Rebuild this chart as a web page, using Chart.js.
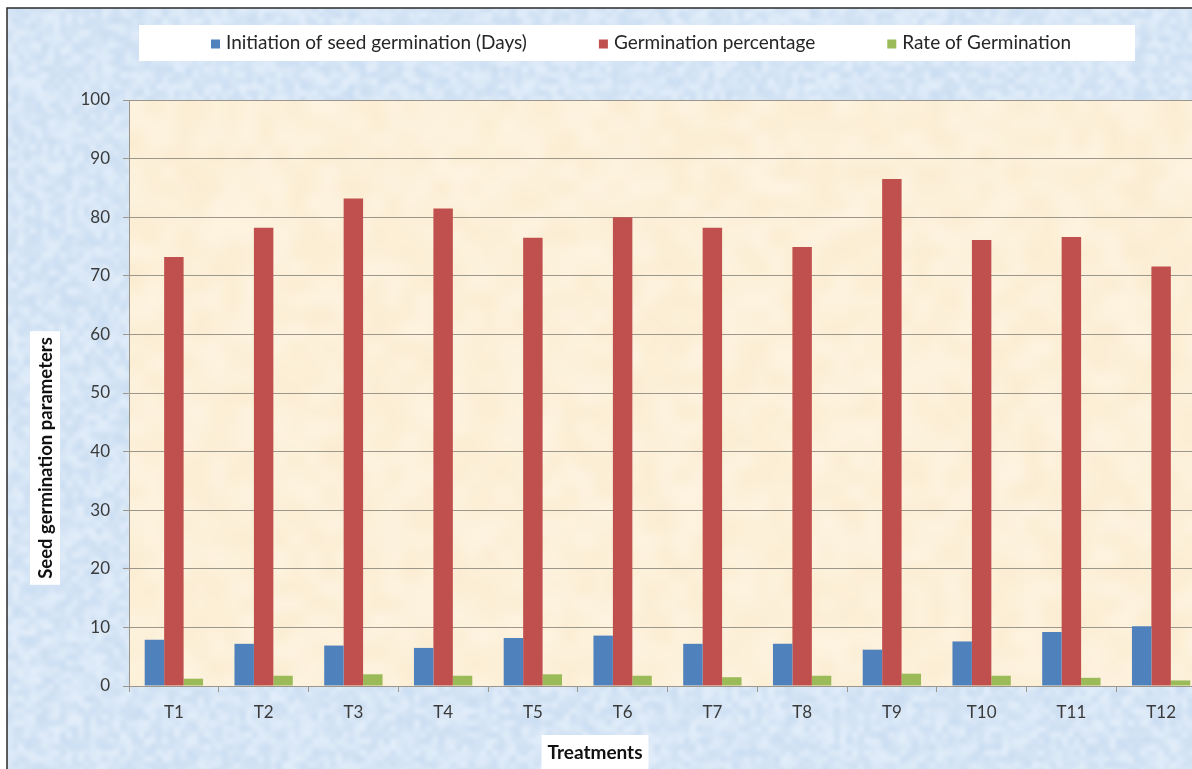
<!DOCTYPE html>
<html>
<head>
<meta charset="utf-8">
<title>Seed germination parameters</title>
<script src="https://cdn.jsdelivr.net/npm/chart.js@4.4.0/dist/chart.umd.min.js"></script>
<style>
  html, body { margin: 0; padding: 0; background: #ffffff; overflow: hidden; width: 1192px; height: 769px; }
  #wrap { position: absolute; left: 0; top: 0; width: 1206px; height: 769px; }
  canvas { display: block; }
</style>
</head>
<body>
<div id="wrap"><canvas id="chart" width="1206" height="769"></canvas></div>
<script>
// Treatments on the x axis
const treatments = ['T1', 'T2', 'T3', 'T4', 'T5', 'T6', 'T7', 'T8', 'T9', 'T10', 'T11', 'T12'];

// Series values per treatment
const initiationDays = [7.9, 7.2, 6.9, 6.5, 8.2, 8.6, 7.2, 7.2, 6.2, 7.6, 9.2, 10.2];
const germinationPercentage = [73.2, 78.2, 83.2, 81.5, 76.5, 80.0, 78.2, 74.9, 86.5, 76.1, 76.6, 71.6];
const germinationRate = [1.25, 1.75, 2.0, 1.75, 2.0, 1.75, 1.5, 1.75, 2.1, 1.75, 1.4, 0.95];

// Series names and y-axis tick values
const seriesNames = ['Initiation of seed germination (Days)', 'Germination percentage', 'Rate of Germination'];
const yTickValues = [0, 10, 20, 30, 40, 50, 60, 70, 80, 90, 100];

const COLORS = ['#4f81bd', '#c0504d', '#9bbb59'];
const FONT = 'Lato, "Open Sans", "DejaVu Sans", sans-serif';
const GRID = '#9d968b';

// Soft mottled texture for the backgrounds (deterministic hash noise)
function hash(i, j, s) {
  const v = Math.sin(i * 127.1 + j * 311.7 + s * 74.7) * 43758.5453;
  return v - Math.floor(v);
}
function mottled(w, h, cell, c1, c2, seed) {
  const cw = Math.ceil(w / cell) + 2, ch = Math.ceil(h / cell) + 2;
  const small = document.createElement('canvas');
  small.width = cw; small.height = ch;
  const sctx = small.getContext('2d');
  const img = sctx.createImageData(cw, ch);
  for (let j = 0; j < ch; j++) {
    for (let i = 0; i < cw; i++) {
      const t = hash(i, j, seed);
      const k = (j * cw + i) * 4;
      img.data[k] = c1[0] + (c2[0] - c1[0]) * t;
      img.data[k + 1] = c1[1] + (c2[1] - c1[1]) * t;
      img.data[k + 2] = c1[2] + (c2[2] - c1[2]) * t;
      img.data[k + 3] = 255;
    }
  }
  sctx.putImageData(img, 0, 0);
  const big = document.createElement('canvas');
  big.width = w; big.height = h;
  const bctx = big.getContext('2d');
  bctx.imageSmoothingEnabled = true;
  bctx.imageSmoothingQuality = 'high';
  bctx.drawImage(small, 0, 0, cw * cell, ch * cell);
  return big;
}

const frameX = 7, frameY = 8;

// Page frame, blue textured backdrop and cream plot area
const backdropPlugin = {
  id: 'backdrop',
  beforeDraw(chart) {
    const { ctx, width, height, chartArea: a } = chart;
    ctx.save();
    ctx.fillStyle = '#ffffff';
    ctx.fillRect(0, 0, width, height);
    if (!this._blue) {
      this._blue = mottled(width, height, 6, [203, 222, 242], [226, 237, 249], 1);
    }
    ctx.drawImage(this._blue, frameX, frameY, width - frameX, height - frameY, frameX, frameY, width - frameX, height - frameY);
    ctx.strokeStyle = '#2b2b2b';
    ctx.lineWidth = 1.5;
    ctx.beginPath();
    ctx.moveTo(frameX, height);
    ctx.lineTo(frameX, frameY);
    ctx.lineTo(width, frameY);
    ctx.stroke();
    if (!this._cream) {
      this._cream = mottled(Math.ceil(a.right - a.left), Math.ceil(a.bottom - a.top), 16, [251, 237, 210], [253, 243, 224], 2);
    }
    ctx.drawImage(this._cream, a.left, a.top);
    ctx.restore();
  }
};

// Legend strip across the top with a white panel behind it
const legendStripPlugin = {
  id: 'legendStrip',
  afterDraw(chart) {
    const { ctx } = chart;
    const size = 19;
    const box = 9, gapBoxText = 6, gapItems = 72;
    const centerX = 641, centerY = 43;
    ctx.save();
    ctx.font = `${size}px ${FONT}`;
    const items = chart.data.datasets.map(ds => ({
      text: ds.label, color: ds.backgroundColor, w: ctx.measureText(ds.label).width
    }));
    const total = items.reduce((s, it) => s + box + gapBoxText + it.w, 0) + gapItems * (items.length - 1);
    let x = centerX - total / 2;
    ctx.fillStyle = '#ffffff';
    ctx.fillRect(x - 72, 25, total + 72 + 64, 36);
    ctx.textBaseline = 'middle';
    ctx.textAlign = 'left';
    items.forEach(it => {
      ctx.fillStyle = it.color;
      ctx.fillRect(x, centerY - box / 2 + 1, box, box);
      x += box + gapBoxText;
      ctx.fillStyle = '#262626';
      ctx.fillText(it.text, x, centerY);
      x += it.w + gapItems;
    });
    ctx.restore();
  }
};

// Axis titles on white label boxes
const axisTitlePlugin = {
  id: 'axisTitles',
  afterDraw(chart) {
    const { ctx } = chart;
    ctx.save();
    ctx.textAlign = 'center';
    ctx.textBaseline = 'middle';

    // y title
    ctx.font = `bold 18.5px ${FONT}`;
    const yText = 'Seed germination parameters';
    const yw = ctx.measureText(yText).width;
    const ycx = 45, ycy = 458;
    ctx.fillStyle = '#ffffff';
    ctx.fillRect(ycx - 15, ycy - yw / 2 - 6, 30, yw + 12);
    ctx.translate(ycx, ycy);
    ctx.rotate(-Math.PI / 2);
    ctx.fillStyle = '#111111';
    ctx.fillText(yText, 0, 1);
    ctx.setTransform(1, 0, 0, 1, 0, 0);

    // x title
    ctx.font = `bold 19px ${FONT}`;
    const xText = 'Treatments';
    const xw = ctx.measureText(xText).width;
    const xcx = 595, xcy = 753;
    ctx.fillStyle = '#ffffff';
    ctx.fillRect(xcx - xw / 2 - 6, 735, xw + 12, 40);
    ctx.fillStyle = '#111111';
    ctx.fillText(xText, xcx, xcy);
    ctx.restore();
  }
};

const datasets = [initiationDays, germinationPercentage, germinationRate].map((values, i) => ({
  label: seriesNames[i],
  data: values,
  backgroundColor: COLORS[i],
  borderWidth: 0,
  categoryPercentage: 0.65,
  barPercentage: 1.0
}));

new Chart(document.getElementById('chart'), {
  type: 'bar',
  data: { labels: treatments, datasets },
  options: {
    responsive: false,
    animation: false,
    devicePixelRatio: 1,
    layout: { padding: { left: 0, right: 0, top: 100, bottom: 0 } },
    plugins: {
      legend: { display: false },
      tooltip: { enabled: false },
      title: { display: false }
    },
    scales: {
      x: {
        grid: { display: true, drawOnChartArea: false, drawTicks: true, tickLength: 6, color: GRID, offset: true },
        border: { display: true, color: GRID, width: 1 },
        ticks: { color: '#3a3a3a', font: { family: FONT, size: 17 }, padding: 10, maxRotation: 0 },
        afterFit(scale) { scale.height = 83; }
      },
      y: {
        min: 0,
        max: 100,
        afterBuildTicks(scale) { scale.ticks = yTickValues.map(v => ({ value: v })); },
        grid: { color: GRID, lineWidth: 1, tickLength: 6, drawTicks: true },
        border: { display: true, color: GRID, width: 1 },
        ticks: { color: '#3a3a3a', font: { family: FONT, size: 17 }, padding: 13 },
        afterFit(scale) { scale.width = 129; }
      }
    }
  },
  plugins: [backdropPlugin, legendStripPlugin, axisTitlePlugin]
});
</script>
</body>
</html>
